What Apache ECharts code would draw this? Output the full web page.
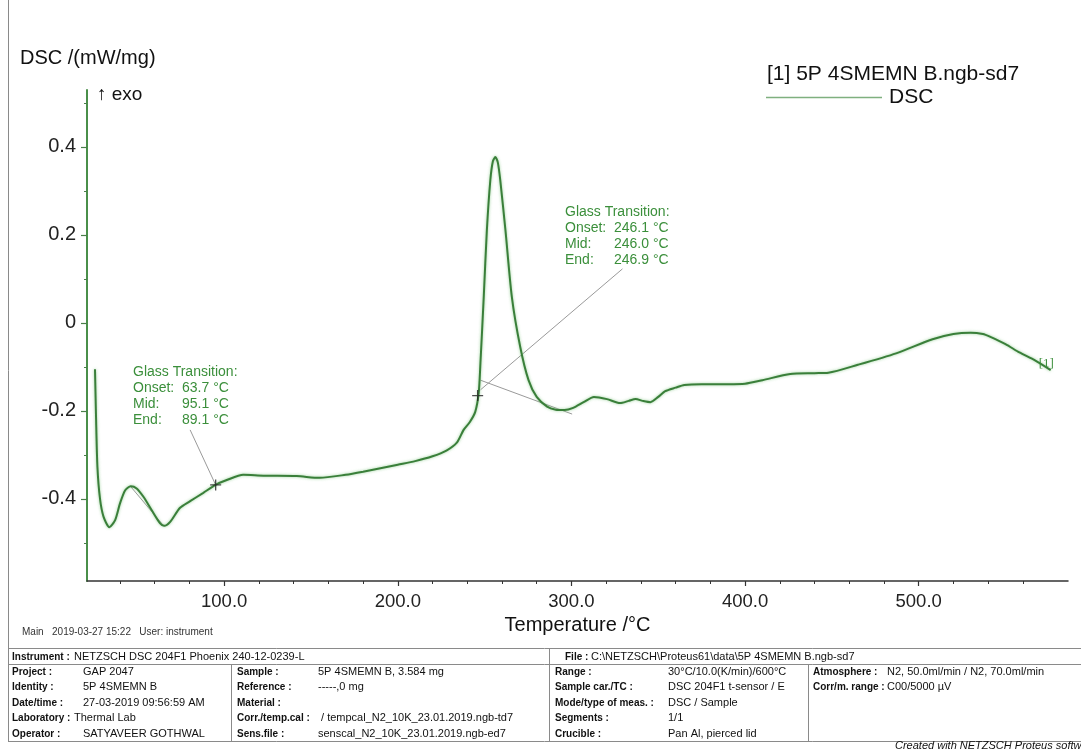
<!DOCTYPE html>
<html>
<head>
<meta charset="utf-8">
<script src="https://cdn.jsdelivr.net/npm/echarts@6/dist/echarts.min.js"></script>
<style>
html,body{margin:0;padding:0;background:#fff}
#c{width:1081px;height:750px}
</style>
</head>
<body>
<div id="c"></div>
<script>
// DSC heating run, 5P 4SMEMN B (temperature in °C, DSC in mW/mg)
const curveT = [25.6, 26.2, 27.0, 28.5, 30.5, 33.9, 37.2, 40.0, 43.0, 46.2, 49.6, 53.5, 58.2, 63.0, 65.4, 68.9,
  74.6, 80.4, 88.0, 95.0, 101.5, 111.0, 122.6, 141.8, 155.0, 170, 180, 190, 200, 210, 220, 228, 234, 237.9,
  241.5, 244.6, 246.6, 247.6, 249.5, 251.3, 253.3, 254.8, 256.2, 257.6, 259.0, 262.0, 265.7, 270.5, 275.3,
  280.0, 286.0, 291, 296, 301, 307, 313, 320.5, 328, 333, 337, 341, 345.5, 350, 354, 360, 365, 375, 390,
  400, 410, 426, 440, 448, 465, 487, 508, 520, 530, 537, 541, 550, 558, 567, 576];
const curveDSC = [-0.105, -0.213, -0.327, -0.400, -0.440, -0.464, -0.448, -0.410, -0.380, -0.371, -0.376, -0.395,
  -0.425, -0.455, -0.461, -0.452, -0.420, -0.405, -0.386, -0.368, -0.357, -0.345, -0.347, -0.348, -0.352,
  -0.345, -0.338, -0.330, -0.322, -0.314, -0.303, -0.290, -0.272, -0.243, -0.225, -0.202, -0.159, -0.091,
  0.059, 0.211, 0.325, 0.368, 0.377, 0.365, 0.325, 0.211, 0.059, -0.054, -0.130, -0.168, -0.190, -0.197,
  -0.198, -0.193, -0.180, -0.168, -0.173, -0.182, -0.177, -0.173, -0.177, -0.180, -0.168, -0.155, -0.147,
  -0.141, -0.139, -0.139, -0.138, -0.130, -0.116, -0.114, -0.113, -0.095, -0.069, -0.037, -0.025, -0.022,
  -0.025, -0.031, -0.048, -0.067, -0.085, -0.107];

// axis ranges and ticks
const xRange = [21, 586];
const yRange = [-0.5864, 0.5295];
const xMajorTicks = [100, 200, 300, 400, 500];
const xMinorTicks = [40, 60, 80, 120, 140, 160, 180, 220, 240, 260, 280, 320, 340, 360, 380, 420, 440, 460, 480, 520, 540, 560];
const yMajorTicks = [-0.4, -0.2, 0, 0.2, 0.4];
const yMinorTicks = [-0.5, -0.3, -0.1, 0.1, 0.3, 0.5];

// glass transition evaluations: [onset, mid, end], marker at mid
const tgLabels = ['Onset:', 'Mid:', 'End:'];
const tgLow = [63.7, 95.1, 89.1];
const tgHigh = [246.1, 246.0, 246.9];
const tgMarkDSC = [-0.368, -0.165];

// construction lines of the evaluations
const tangentLow = [[46.2, -0.372], [65.4, -0.462]];
const leaderLow = [[80.4, -0.243], [95.1, -0.368]];
const leaderHigh = [[329.4, 0.123], [247.6, -0.152]];
const tangentHigh = [[247.6, -0.130], [300.4, -0.207]];

// measurement information
const headerLeft = ['Instrument :', 'NETZSCH DSC 204F1 Phoenix 240-12-0239-L'];
const headerRight = ['File :', 'C:\\NETZSCH\\Proteus61\\data\\5P 4SMEMN B.ngb-sd7'];
const infoRows = [
  ['Project :', 'GAP 2047', 'Sample :', '5P 4SMEMN B, 3.584 mg', 'Range :', '30°C/10.0(K/min)/600°C', 'Atmosphere :', 'N2, 50.0ml/min / N2, 70.0ml/min'],
  ['Identity :', '5P 4SMEMN B', 'Reference :', '-----,0 mg', 'Sample car./TC :', 'DSC 204F1 t-sensor / E', 'Corr/m. range :', 'C00/5000 µV'],
  ['Date/time :', '27-03-2019 09:56:59 AM', 'Material :', '', 'Mode/type of meas. :', 'DSC / Sample', '', ''],
  ['Laboratory :', 'Thermal Lab', 'Corr./temp.cal :', ' / tempcal_N2_10K_23.01.2019.ngb-td7', 'Segments :', '1/1', '', ''],
  ['Operator :', 'SATYAVEER GOTHWAL', 'Sens.file :', 'senscal_N2_10K_23.01.2019.ngb-ed7', 'Crucible :', 'Pan Al, pierced lid', '', '']
];
const statusLine = 'Main   2019-03-27 15:22   User: instrument';
const footerNote = 'Created with NETZSCH Proteus software';
const sampleTitle = '[1] 5P 4SMEMN B.ngb-sd7';

const FONT = 'Arial, "Liberation Sans", sans-serif';
const GREEN = '#3a7f3a';
const TXT_GREEN = '#3b8f3b';

const curve = curveT.map((t, i) => [t, curveDSC[i]]);

function helperLine(pts) {
  return {
    type: 'line', data: pts, xAxisIndex: 0, yAxisIndex: 0, symbol: 'none', silent: true,
    lineStyle: { color: '#9a9a9a', width: 1 }, z: 3
  };
}

// page furniture: labels, info table
const g = [];
function txt(x, y, text, font, fill, extra) {
  g.push(Object.assign({ type: 'text', x: x, y: y, silent: true,
    style: { text: text, font: font, fill: fill || '#111', verticalAlign: 'middle' } }, extra || {}));
}
function ln(x1, y1, x2, y2, color) {
  g.push({ type: 'line', silent: true, shape: { x1: x1, y1: y1, x2: x2, y2: y2 },
    style: { stroke: color || '#8a8a8a', lineWidth: 1 } });
}

txt(20, 58, 'DSC /(mW/mg)', '20px ' + FONT, '#111');
txt(97, 95, '\u2191 exo', '19px ' + FONT, '#111');

// glass transition boxes
function tgBox(x0, y0, vals) {
  txt(x0, y0, 'Glass Transition:', '14px ' + FONT, TXT_GREEN);
  vals.forEach((v, i) => {
    txt(x0, y0 + 16 * (i + 1), tgLabels[i], '14px ' + FONT, TXT_GREEN);
    txt(x0 + 49, y0 + 16 * (i + 1), v.toFixed(1) + ' \u00b0C', '14px ' + FONT, TXT_GREEN);
  });
}
tgBox(133, 372, tgLow);
tgBox(565, 212, tgHigh);

// left frame line
ln(8.5, 0, 8.5, 741);

// status line
txt(22, 632, statusLine, '10px ' + FONT, '#333');

// info table
const rowY = [672, 687, 703, 718, 734];
const colX = [12, 83, 237, 318, 555, 668, 813, 887];
const LBL = 'bold 10px ' + FONT;
const VAL = '11px ' + FONT;
ln(8, 648.5, 1081, 648.5);
ln(8, 664.5, 1081, 664.5);
ln(8, 741.5, 1081, 741.5);
ln(549.5, 648, 549.5, 741);
ln(231.5, 664, 231.5, 741);
ln(808.5, 664, 808.5, 741);
txt(12, 657, headerLeft[0], LBL, '#111');
txt(74, 657, headerLeft[1], VAL, '#111');
txt(565, 657, headerRight[0], LBL, '#111');
txt(591, 657, headerRight[1], VAL, '#111');
infoRows.forEach((row, r) => {
  row.forEach((cell, c) => {
    if (!cell) return;
    let x = colX[c];
    if (c === 1 && row[0] === 'Laboratory :') x = 74;
    txt(x, rowY[r], cell, c % 2 === 0 ? LBL : VAL, '#111');
  });
});
txt(895, 746, footerNote, 'italic 11px ' + FONT, '#111');

const chart = echarts.init(document.getElementById('c'), null, { renderer: 'canvas' });
chart.setOption({
  backgroundColor: '#ffffff',
  animation: false,
  title: {
    text: sampleTitle, left: 762, top: 59,
    textStyle: { fontFamily: FONT, fontSize: 21, fontWeight: 'normal', color: '#111' }
  },
  legend: {
    data: ['DSC'], left: 761, top: 82, icon: 'rect', itemWidth: 116, itemHeight: 1.5,
    textStyle: { fontFamily: FONT, fontSize: 21, color: '#111', padding: [0, 0, 0, 2] },
    itemStyle: { color: '#7fb07f' }
  },
  grid: { left: 87, right: 13, top: 90, bottom: 169, containLabel: false },
  xAxis: [{
    type: 'value', min: xRange[0], max: xRange[1], position: 'bottom',
    name: 'Temperature /\u00b0C', nameLocation: 'middle', nameGap: 29,
    nameTextStyle: { fontFamily: FONT, fontSize: 20, color: '#111', verticalAlign: 'top' },
    axisLine: { show: true, onZero: false, lineStyle: { color: '#333', width: 1.5 } },
    axisTick: { show: true, customValues: xMajorTicks, length: 5, lineStyle: { color: '#333', width: 1.2 } },
    axisLabel: { customValues: xMajorTicks, formatter: v => v.toFixed(1), margin: 11,
      fontFamily: FONT, fontSize: 18.5, color: '#222' },
    splitLine: { show: false }
  }, {
    type: 'value', min: xRange[0], max: xRange[1], position: 'bottom',
    axisLine: { show: false, onZero: false },
    axisTick: { show: true, customValues: xMinorTicks, length: 3, lineStyle: { color: '#333', width: 1 } },
    axisLabel: { show: false }, splitLine: { show: false }
  }],
  yAxis: [{
    type: 'value', min: yRange[0], max: yRange[1], position: 'left',
    axisLine: { show: true, onZero: false, lineStyle: { color: '#4a8f4a', width: 2 } },
    axisTick: { show: true, customValues: yMajorTicks, length: 6, lineStyle: { color: '#4a7f4a', width: 1.2 } },
    axisLabel: { customValues: yMajorTicks, formatter: v => String(+v.toFixed(1)), margin: 11,
      fontFamily: FONT, fontSize: 20, color: '#222' },
    splitLine: { show: false }
  }, {
    type: 'value', min: yRange[0], max: yRange[1], position: 'left',
    axisLine: { show: false, onZero: false },
    axisTick: { show: true, customValues: yMinorTicks, length: 3, lineStyle: { color: '#4a7f4a', width: 1 } },
    axisLabel: { show: false }, splitLine: { show: false }
  }],
  graphic: g,
  series: [
    helperLine(tangentLow),
    helperLine(leaderLow),
    helperLine(leaderHigh),
    helperLine(tangentHigh),
    {
      name: 'DSC', type: 'line', data: curve, xAxisIndex: 0, yAxisIndex: 0,
      smooth: 0.25, symbol: 'none', z: 4,
      lineStyle: { color: GREEN, width: 2, shadowColor: 'rgba(110,190,110,0.7)', shadowBlur: 3 },
      itemStyle: { color: '#7fb07f' },
      endLabel: { show: true, formatter: '[1]', offset: [-20, -6],
        fontFamily: '"Liberation Serif", serif', fontSize: 13, color: TXT_GREEN }
    },
    {
      type: 'scatter', xAxisIndex: 0, yAxisIndex: 0, silent: true, z: 5,
      data: [[tgLow[1], tgMarkDSC[0]], [tgHigh[1], tgMarkDSC[1]]],
      symbol: 'path://M0,4.4H10V5.6H0Z M4.4,0H5.6V10H4.4Z', symbolSize: 11,
      itemStyle: { color: '#222' }
    }
  ]
});
</script>
</body>
</html>
